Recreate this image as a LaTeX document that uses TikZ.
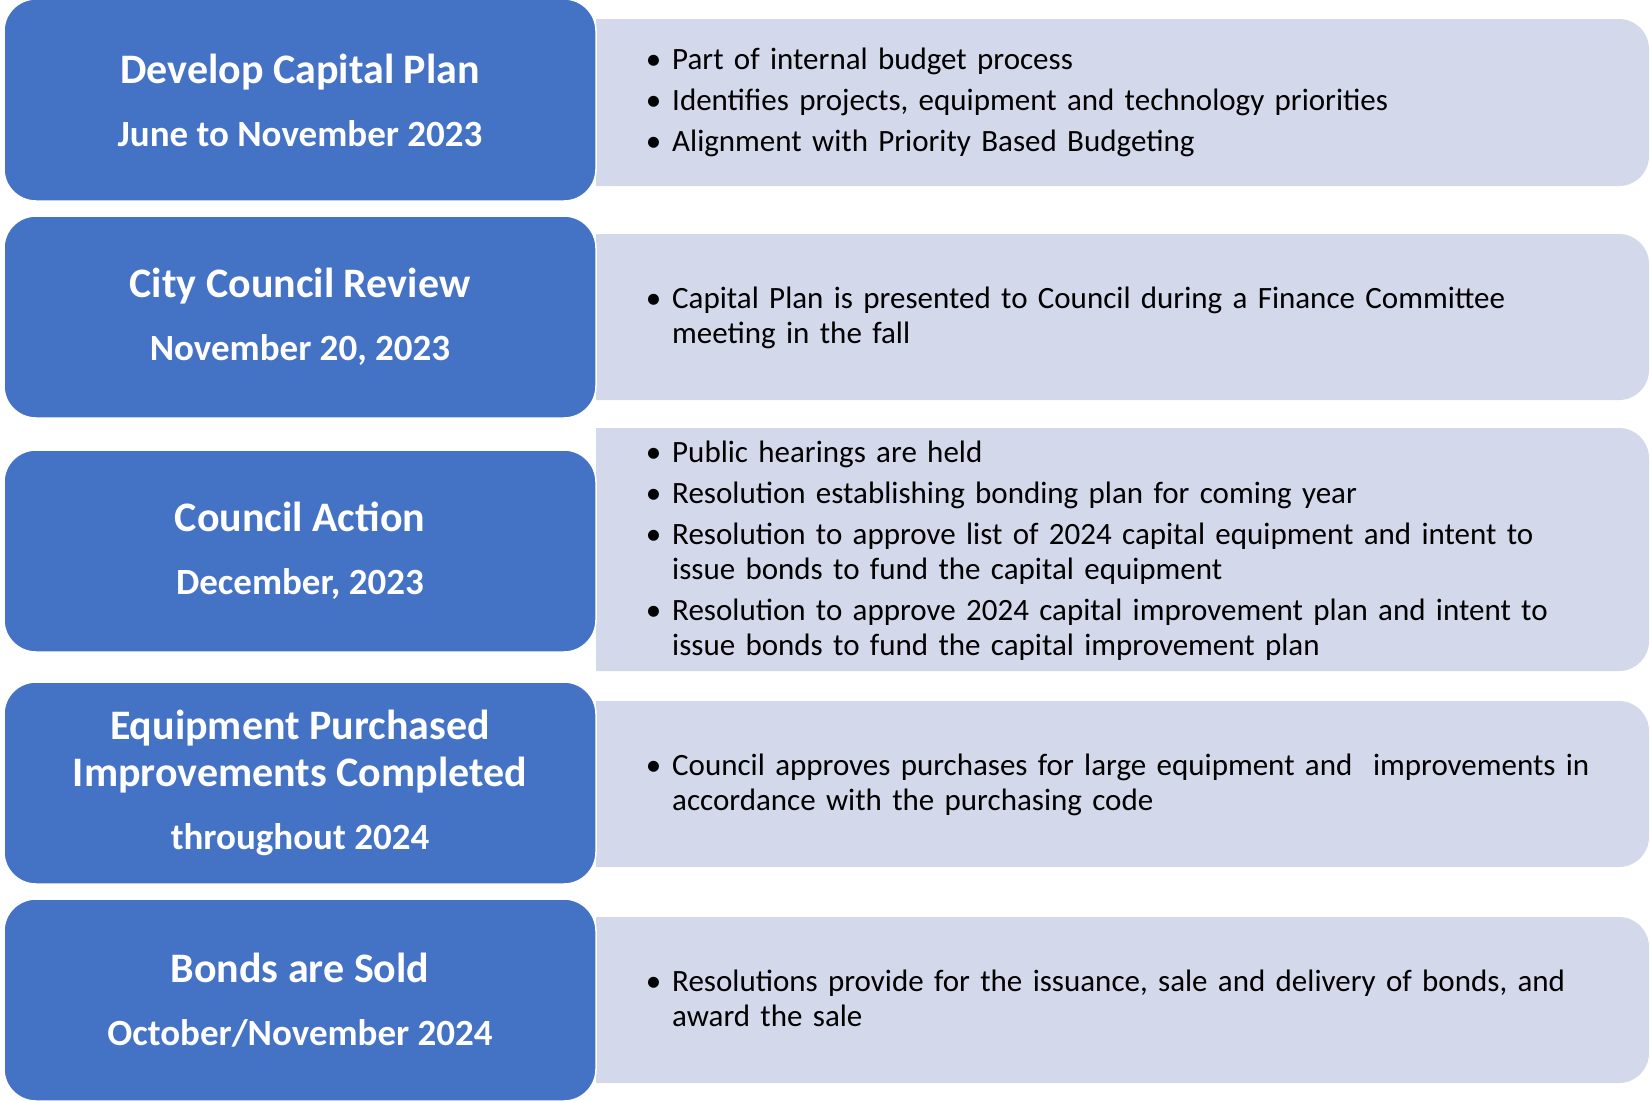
\documentclass[tikz,border=0pt]{standalone}
\usepackage{fontspec}
\setmainfont{Carlito}
\usepackage{enumitem}
\setlist[itemize]{label=\textbullet, leftmargin=27pt, labelsep=11pt, topsep=0pt, partopsep=0pt, parsep=0pt, itemsep=6pt}

\definecolor{stageblue}{HTML}{4472C4}
\definecolor{notefill}{HTML}{D3D8EA}

\begin{document}
\begin{tikzpicture}[x=1pt, y=-1pt,
    stage/.style={fill=stageblue, draw=white, line width=1.5pt, rounded corners=32pt,
      minimum width=592pt, minimum height=202pt, text=white, align=center,
      font=\bfseries\fontsize{42}{47}\selectfont},
    notes/.style={anchor=west, inner sep=0pt, text width=990pt,
      font=\fontsize{31}{35}\selectfont}]
            \useasboundingbox (0,0) rectangle (1650,1101);

            %light bars, square on the left
            \begin{scope}
              \clip (596,0) rectangle (1650,1101);
              \fill[notefill, rounded corners=30pt] (560,19) rectangle (1649,186);
              \fill[notefill, rounded corners=30pt] (560,234) rectangle (1649,400);
              \fill[notefill, rounded corners=30pt] (560,428) rectangle (1649,671);
              \fill[notefill, rounded corners=30pt] (560,701) rectangle (1649,867);
              \fill[notefill, rounded corners=30pt] (560,917) rectangle (1649,1083);
            \end{scope}

            %stages
            \node[stage] (plan) at (300,100) {Develop Capital Plan\\[16pt]{\fontsize{37}{47}\selectfont June to November 2023}};
            \node[stage] (review) at (300,317) {City Council Review\\[16pt]{\fontsize{37}{47}\selectfont November 20, 2023}};
            \node[stage] (action) at (300,551) {Council Action\\[16pt]{\fontsize{37}{47}\selectfont December, 2023}};
            \node[stage] (purchase) at (300,783) {Equipment Purchased\\Improvements Completed\\[16pt]{\fontsize{37}{47}\selectfont throughout 2024}};
            \node[stage] (sale) at (300,1000) {Bonds are Sold\\[16pt]{\fontsize{37}{47}\selectfont October/November 2024}};

            %notes
            \node[notes] (plannotes) at (645,96) {\begin{itemize}
              \item Part of internal budget process
              \item Identifies projects, equipment and technology priorities
              \item Alignment with Priority Based Budgeting
            \end{itemize}};
            \node[notes] (reviewnotes) at (645,311) {\begin{itemize}
              \item Capital Plan is presented to Council during a Finance Committee\newline meeting in the fall
            \end{itemize}};
            \node[notes] (actionnotes) at (645,544) {\begin{itemize}
              \item Public hearings are held
              \item Resolution establishing bonding plan for coming year
              \item Resolution to approve list of 2024 capital equipment and intent to\newline issue bonds to fund the capital equipment
              \item Resolution to approve 2024 capital improvement plan and intent to\newline issue bonds to fund the capital improvement plan
            \end{itemize}};
            \node[notes] (purchasenotes) at (645,778) {\begin{itemize}
              \item Council approves purchases for large equipment and~ improvements in\newline accordance with the purchasing code
            \end{itemize}};
            \node[notes] (salenotes) at (645,992) {\begin{itemize}
              \item Resolutions provide for the issuance, sale and delivery of bonds, and\newline award the sale
            \end{itemize}};
        \end{tikzpicture}
\end{document}
